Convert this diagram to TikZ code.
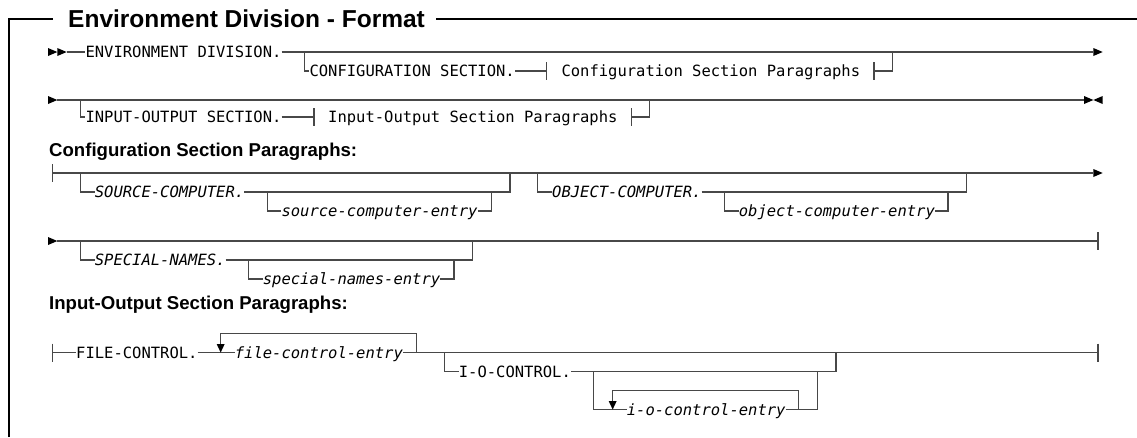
\documentclass[tikz,border=0pt]{standalone}
\usepackage{fontspec}
\setmainfont{Liberation Sans}
\newfontfamily\railfont{DejaVu Sans Mono}[ItalicFont={DejaVu Sans Mono Oblique}]
\definecolor{railgray}{RGB}{72,72,72}

% arrow heads and end bars of the railroad lines (tip x, line y)
\newcommand\tipR[2]{\fill[tipfill] ({#1-9.33},{#2-4}) -- ({#1},{#2}) -- ({#1-9.33},{#2+4}) -- cycle;}
\newcommand\tipL[2]{\fill[tipfill] ({#1+9.33},{#2-4}) -- ({#1},{#2}) -- ({#1+9.33},{#2+4}) -- cycle;}
\newcommand\tipD[2]{\fill[tipfill] ({#1-4},{#2-8.5}) -- ({#1},{#2}) -- ({#1+4},{#2-8.5}) -- cycle;}
\newcommand\railbar[2]{\draw[rail] ({#1},{#2-9}) -- ({#1},{#2+9});}

\begin{document}
\begin{tikzpicture}[x=1pt,y=-1pt,
  boxline/.style={draw=black,line width=1.3pt},
  rail/.style={draw=railgray,line width=1.15pt},
  tipfill/.style={fill=black},
  railkw/.style={font=\railfont\fontsize{15.5}{15.5}\selectfont,inner sep=0pt,
                 text height=11.3pt,text depth=0pt,anchor=west},
  railvar/.style={railkw,font=\railfont\itshape\fontsize{15.5}{15.5}\selectfont},
  headtext/.style={font=\bfseries\fontsize{18.6}{18.6}\selectfont,inner sep=0pt,anchor=base west},
  titletext/.style={font=\bfseries\fontsize{24.5}{24.5}\selectfont,inner sep=0pt,anchor=base west},
]
\useasboundingbox (0,0) rectangle (1137,437);

% ---------- frame with title ----------
\node[titletext] (title) at (68,27.5) {Environment Division - Format};
\coordinate (frameTL) at (9,19);
\coordinate (frameBL) at (9,437);
\coordinate (frameTR) at (1137,19);
\draw[boxline] (frameBL) -- (frameTL) -- ([xshift=-15pt]title.west |- frameTL);
\draw[boxline] ([xshift=11pt]title.east |- frameTR) -- (frameTR);

% ---------- ENVIRONMENT DIVISION ----------
\tipR{57.33}{52}
\tipR{66.67}{52}
\coordinate (r1start) at (66.67,52);
\node[railkw] (envdiv) at (85.33,52) {ENVIRONMENT DIVISION.};
\coordinate (r1end) at (1093.33,52);
\draw[rail] (r1start) -- (envdiv.west) (envdiv.east) -- (r1end);
\tipR{1102.67}{52}
\coordinate (r1split) at (304.67,52);
\node[railkw] (confsec) at (309.33,71) {CONFIGURATION SECTION.};
\draw[rail] (r1split) |- (confsec.west);
\coordinate (confbarL) at (546.67,71);
\draw[rail] (confsec.east) -- (confbarL);
\railbar{546.67}{71}
\node[railkw] (confref) at (561.33,71) {Configuration Section Paragraphs};
\coordinate (confbarR) at (874,71);
\railbar{874}{71}
\coordinate (r1join) at (892.67,52);
\draw[rail] (confbarR) -| (r1join);

\tipR{57.33}{100}
\coordinate (r2start) at (57.33,100);
\coordinate (r2end) at (1084,100);
\draw[rail] (r2start) -- (r2end);
\tipR{1093.33}{100}
\tipL{1093.33}{100}
\coordinate (r2split) at (80.67,100);
\node[railkw] (iosec) at (85.33,117) {INPUT-OUTPUT SECTION.};
\draw[rail] (r2split) |- (iosec.west);
\coordinate (iobarL) at (314,117);
\draw[rail] (iosec.east) -- (iobarL);
\railbar{314}{117}
\node[railkw] (ioref) at (328,117) {Input-Output Section Paragraphs};
\coordinate (iobarR) at (631.33,117);
\railbar{631.33}{117}
\coordinate (r2join) at (649.33,100);
\draw[rail] (iobarR) -| (r2join);

% ---------- Configuration Section Paragraphs ----------
\node[headtext] (confhead) at (49,156) {Configuration Section Paragraphs:};

\railbar{52.67}{173}
\coordinate (r3start) at (52.67,173);
\coordinate (r3end) at (1093.33,173);
\draw[rail] (r3start) -- (r3end);
\tipR{1102.67}{173}

\coordinate (srcsplit) at (80.67,173);
\node[railvar] (srckw) at (94.67,192) {SOURCE-COMPUTER.};
\coordinate (srcjoin) at (510,173);
\draw[rail] (srcsplit) |- (srckw.west) (srckw.east) -| (srcjoin);
\coordinate (srcentsplit) at (267.33,192);
\node[railvar] (srcent) at (281.33,211) {source-computer-entry};
\coordinate (srcentjoin) at (491.33,192);
\draw[rail] (srcentsplit) |- (srcent.west) (srcent.east) -| (srcentjoin);

\coordinate (objsplit) at (537.33,173);
\node[railvar] (objkw) at (552,192) {OBJECT-COMPUTER.};
\coordinate (objjoin) at (966.67,173);
\draw[rail] (objsplit) |- (objkw.west) (objkw.east) -| (objjoin);
\coordinate (objentsplit) at (724.67,192);
\node[railvar] (objent) at (738.67,211) {object-computer-entry};
\coordinate (objentjoin) at (948,192);
\draw[rail] (objentsplit) |- (objent.west) (objent.east) -| (objentjoin);

\tipR{57.33}{241}
\coordinate (r4start) at (57.33,241);
\coordinate (r4end) at (1098,241);
\draw[rail] (r4start) -- (r4end);
\railbar{1098}{241}
\coordinate (spsplit) at (80.67,241);
\node[railvar] (spkw) at (94.67,260) {SPECIAL-NAMES.};
\coordinate (spjoin) at (472.67,241);
\draw[rail] (spsplit) |- (spkw.west) (spkw.east) -| (spjoin);
\coordinate (spentsplit) at (248.67,260);
\node[railvar] (spent) at (262.67,279) {special-names-entry};
\coordinate (spentjoin) at (454,260);
\draw[rail] (spentsplit) |- (spent.west) (spent.east) -| (spentjoin);

% ---------- Input-Output Section Paragraphs ----------
\node[headtext] (iohead) at (49,309) {Input-Output Section Paragraphs:};

\railbar{52.67}{352.5}
\coordinate (r5start) at (52.67,352.5);
\node[railkw] (filekw) at (76,352.5) {FILE-CONTROL.};
\node[railvar] (fileent) at (234.67,352.5) {file-control-entry};
\coordinate (r5end) at (1098,352.5);
\draw[rail] (r5start) -- (filekw.west) (filekw.east) -- (fileent.west) (fileent.east) -- (r5end);
\railbar{1098}{352.5}
\coordinate (fileloopR) at (416.67,352.5);
\coordinate (fileloopTop) at (220.67,333.5);
\coordinate (fileloopL) at (220.67,345);
\draw[rail] (fileloopR) |- (fileloopTop) -- (fileloopL);
\tipD{220.67}{352.5}

\coordinate (iosplit) at (444.67,352.5);
\node[railkw] (iokw) at (458.67,371.5) {I-O-CONTROL.};
\coordinate (iojoin) at (836,352.5);
\draw[rail] (iosplit) |- (iokw.west) (iokw.east) -| (iojoin);
\coordinate (ioentsplit) at (593.33,371.5);
\node[railvar] (ioent) at (626.67,409.5) {i-o-control-entry};
\coordinate (ioentjoin) at (817.33,371.5);
\draw[rail] (ioentsplit) |- (ioent.west) (ioent.east) -| (ioentjoin);
\coordinate (ioloopR) at (798.67,409.5);
\coordinate (ioloopTop) at (612.67,390.5);
\coordinate (ioloopL) at (612.67,402);
\draw[rail] (ioloopR) |- (ioloopTop) -- (ioloopL);
\tipD{612.67}{409.5}
\end{tikzpicture}
\end{document}
